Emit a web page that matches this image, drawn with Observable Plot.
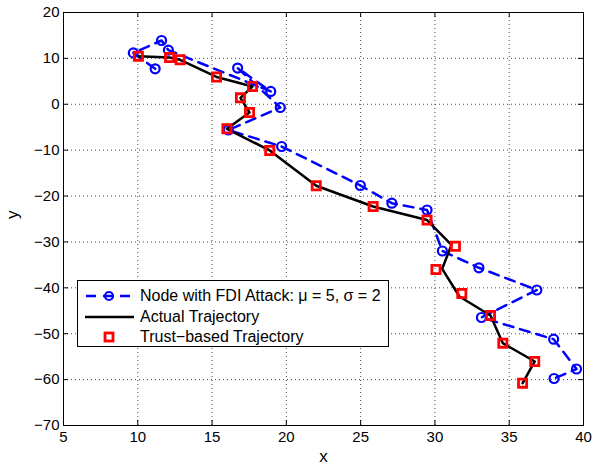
<!DOCTYPE html>
<html><head><meta charset="utf-8">
<script src="https://cdn.jsdelivr.net/npm/d3@7"></script>
<script src="https://cdn.jsdelivr.net/npm/@observablehq/plot@0.6"></script>
<style>
body{margin:0;background:#fff;font-family:"Liberation Sans",Arial,sans-serif;}
#wrap{position:relative;width:595px;height:466px;}
#legend{position:absolute;left:77px;top:280px;width:312px;height:67px;border:1px solid #000;background:#fff;box-sizing:border-box;font-size:16px;color:#000;}
.row{position:absolute;left:0;height:20px;display:flex;align-items:center;}
.row svg{display:block}
.row span{position:absolute;left:62px;white-space:nowrap}
</style></head>
<body><div id="wrap"><div id="legend"></div></div>
<script>
// Node with FDI attack (measured positions, in drawing order)
const attackX = [11.17, 9.70, 11.6, 12.06, 18.95, 16.72, 19.59, 16.1, 19.68, 24.98, 27.1, 29.47, 30.5, 32.96, 36.86, 33.13, 37.99, 39.53, 38.02];
const attackY = [7.73, 11.2, 13.9, 11.8, 2.79, 7.9, -0.7, -5.6, -9.2, -17.7, -21.56, -23.04, -31.97, -35.63, -40.47, -46.46, -51.19, -57.69, -59.76];
// Actual trajectory
const actualX = [10.04, 12.14, 12.85, 15.3, 17.72, 16.91, 17.52, 16.0, 18.88, 22.01, 25.84, 29.47, 31.11, 30.49, 31.65, 33.74, 34.57, 36.72, 35.9];
const actualY = [10.48, 10.2, 9.7, 5.95, 3.87, 1.41, -1.79, -5.34, -10.07, -17.76, -22.27, -25.22, -30.66, -35.85, -41.89, -46.03, -52.06, -56.05, -60.78];
// Trust-based trajectory
const trustX = [10.04, 12.14, 12.85, 15.3, 17.72, 16.91, 17.52, 16.0, 18.88, 22.01, 25.84, 29.47, 31.38, 30.07, 31.81, 33.74, 34.57, 36.72, 35.9];
const trustY = [10.48, 10.2, 9.7, 5.95, 3.87, 1.41, -1.79, -5.34, -10.07, -17.76, -22.27, -25.22, -30.93, -36.0, -41.23, -46.03, -52.06, -56.05, -60.78];
const xTicks = [5, 10, 15, 20, 25, 30, 35, 40];
const yTicks = [20, 10, 0, -10, -20, -30, -40, -50, -60, -70];
const legendLabels = ["Node with FDI Attack: \u03bc = 5, \u03c3 = 2", "Actual Trajectory", "Trust\u2212based Trajectory"];

const attack = attackX.map((x, i) => ({x, y: attackY[i]}));
const actual = actualX.map((x, i) => ({x, y: actualY[i]}));
const trust = trustX.map((x, i) => ({x, y: trustY[i]}));
const fmt = d => d < 0 ? "\u2212" + (-d) : String(d);

const blue = "#0000ff", red = "#ff0000";
const xMin = 5, xMax = 40, yMin = -70, yMax = 20;
const tkX = 0.34, tkY = 1.1; // inward tick length in data units (~5px)
const chart = Plot.plot({
  width: 595, height: 466,
  marginLeft: 63, marginRight: 12, marginTop: 12, marginBottom: 41,
  style: {fontFamily: "'Liberation Sans', Arial, sans-serif", fontSize: "15px", color: "#000", background: "#fff"},
  x: {type: "linear", domain: [xMin, xMax]},
  y: {type: "linear", domain: [yMin, yMax]},
  marks: [
    Plot.gridX(xTicks.slice(1, -1), {stroke: "#000", strokeOpacity: 0.7, strokeDasharray: "1,3"}),
    Plot.gridY(yTicks.slice(1, -1), {stroke: "#000", strokeOpacity: 0.7, strokeDasharray: "1,3"}),
    Plot.axisX(xTicks, {anchor: "bottom", tickSize: 0, tickPadding: 6, tickFormat: fmt, label: null, fontSize: 15}),
    Plot.axisY(yTicks, {anchor: "left", tickSize: 0, tickPadding: 4, tickFormat: fmt, label: null, fontSize: 15}),
    Plot.ruleX(xTicks, {x: d => d, y1: yMin, y2: yMin + tkY, stroke: "#000"}),
    Plot.ruleX(xTicks, {x: d => d, y1: yMax, y2: yMax - tkY, stroke: "#000"}),
    Plot.ruleY(yTicks, {y: d => d, x1: xMin, x2: xMin + tkX, stroke: "#000"}),
    Plot.ruleY(yTicks, {y: d => d, x1: xMax, x2: xMax - tkX, stroke: "#000"}),
    Plot.line(attack, {x: "x", y: "y", stroke: blue, strokeWidth: 2.5, strokeDasharray: "10,7"}),
    Plot.line(actual, {x: "x", y: "y", stroke: "#000", strokeWidth: 2.5}),
    Plot.dot(attack, {x: "x", y: "y", r: 4.5, stroke: blue, strokeWidth: 2.2, fill: "none"}),
    Plot.dot(trust, {x: "x", y: "y", symbol: "square", r: 4.6, stroke: red, strokeWidth: 2.8, fill: "none"}),
    Plot.frame({stroke: "#000", strokeWidth: 1}),
    Plot.text(["x"], {frameAnchor: "bottom", dy: 36, text: d => d, fontSize: 17}),
    Plot.text(["y"], {frameAnchor: "left", dx: -51, rotate: -90, text: d => d, fontSize: 17})
  ]
});
document.getElementById("wrap").prepend(chart);

// legend
const lg = document.getElementById("legend");
const rows = [
  `<svg width="60" height="20"><line x1="7" x2="56" y1="10" y2="10" stroke="${blue}" stroke-width="2.5" stroke-dasharray="10,7" stroke-dashoffset="-1"/><circle cx="31" cy="10" r="4" stroke="${blue}" stroke-width="2.2" fill="none"/></svg>`,
  `<svg width="60" height="20"><line x1="7" x2="56" y1="10" y2="10" stroke="#000" stroke-width="2.5"/></svg>`,
  `<svg width="60" height="20"><rect x="27" y="6" width="8" height="8" stroke="${red}" stroke-width="2.8" fill="none"/></svg>`
];
const tops = [5, 26, 46];
legendLabels.forEach((t, i) => {
  const r = document.createElement("div");
  r.className = "row";
  r.style.top = tops[i] + "px";
  r.innerHTML = rows[i] + `<span>${t}</span>`;
  lg.appendChild(r);
});
</script>
</body></html>
